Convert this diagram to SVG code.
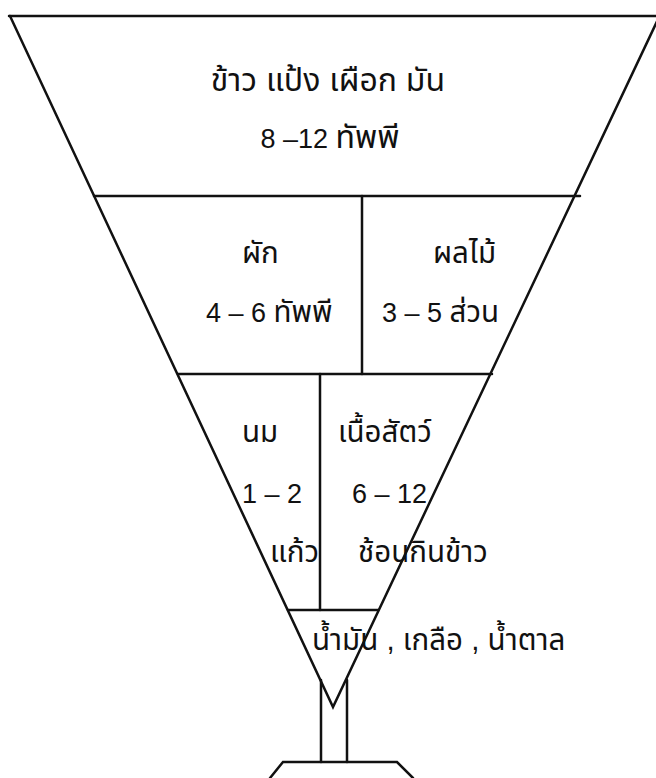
<svg xmlns="http://www.w3.org/2000/svg" width="656" height="778" viewBox="0 0 656 778">
<style>
.l{stroke:#111;stroke-width:2.5;fill:none;stroke-linecap:round}
text{font-family:"Liberation Sans","Noto Sans Thai","Noto Sans","DejaVu Sans",sans-serif;font-size:27px;fill:#111}
.t{font-size:29.5px}
.big{font-size:28px}
.big .t{font-size:32px}
</style>
<rect width="656" height="778" fill="#fff"/>
<g id="connectors">
<path class="l" d="M9 16 H656"/>
<path class="l" d="M10 16 L333 707 L660 15"/>
<path class="l" d="M94 196 H580"/>
<path class="l" d="M362 196 V374"/>
<path class="l" d="M178 374 H492"/>
<path class="l" d="M320 374 V610"/>
<path class="l" d="M288 610 H378"/>
</g>
<g id="grains" class="big">
<text x="328" y="91" text-anchor="middle"><tspan class="t">ข้าว แป้ง เผือก มัน</tspan></text>
<text x="330" y="148" text-anchor="middle">8 –12 <tspan class="t">ทัพพี</tspan></text>
</g>
<g id="vegetables">
<text x="242" y="263"><tspan class="t">ผัก</tspan></text>
<text x="206" y="322">4 – 6 <tspan class="t">ทัพพี</tspan></text>
</g>
<g id="fruits">
<text x="433" y="263"><tspan class="t">ผลไม้</tspan></text>
<text x="382" y="322">3 – 5 <tspan class="t">ส่วน</tspan></text>
</g>
<g id="milk">
<text x="242" y="442"><tspan class="t">นม</tspan></text>
<text x="242" y="503">1 – 2</text>
<text x="270" y="562"><tspan class="t">แก้ว</tspan></text>
</g>
<g id="meat">
<text x="338" y="442"><tspan class="t">เนื้อสัตว์</tspan></text>
<text x="352" y="503">6 – 12</text>
<text x="358" y="562"><tspan class="t">ช้อนกินข้าว</tspan></text>
</g>
<g id="fats">
<text x="312" y="650"><tspan class="t">น้ำมัน , เกลือ , น้ำตาล</tspan></text>
</g>
<g id="stand">
<path class="l" d="M321 680 V762 M347 680 V762"/>
<path class="l" d="M270 778 L283 762 H397 L413 778"/>
</g>
</svg>
